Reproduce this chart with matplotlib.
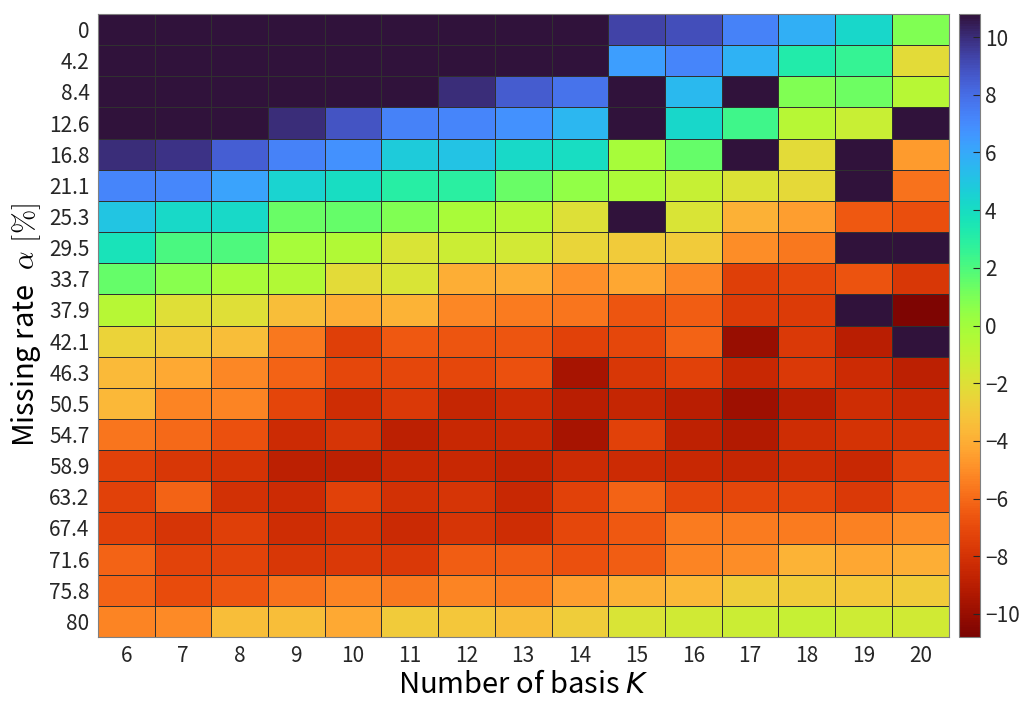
import matplotlib
matplotlib.use("Agg")
import matplotlib.pyplot as plt
import numpy as np

plt.rcParams["font.family"] = ["Noto Sans CJK JP", "DejaVu Sans"]
plt.rcParams["axes.unicode_minus"] = True

# number of basis K (columns) and missing rate alpha [%] (rows)
basis_k = [6, 7, 8, 9, 10, 11, 12, 13, 14, 15, 16, 17, 18, 19, 20]
missing_rate = ["0", "4.2", "8.4", "12.6", "16.8", "21.1", "25.3", "29.5", "33.7",
                "37.9", "42.1", "46.3", "50.5", "54.7", "58.9", "63.2", "67.4",
                "71.6", "75.8", "80"]

# values (>= 10.8 is saturated dark)
values = [
    [11, 11, 11, 11, 11, 11, 11, 11, 11, 9.3, 9.0, 7.3, 5.8, 4.3, 0.9],
    [11, 11, 11, 11, 11, 11, 11, 11, 10.8, 6.4, 7.2, 5.7, 3.2, 2.6, -2.2],
    [11, 11, 11, 11, 11, 11, 10.0, 8.6, 7.8, 11, 5.4, 11, 0.9, 1.3, -0.6],
    [11, 11, 10.8, 10.0, 8.8, 7.3, 7.2, 6.8, 5.5, 11, 4.3, 2.3, -0.6, -1.2, 11],
    [10.0, 9.8, 8.5, 7.3, 6.8, 4.8, 5.1, 4.2, 4.0, -0.1, 1.5, 11, -2.2, 11, -4.6],
    [7.2, 7.1, 6.2, 4.4, 4.0, 3.0, 2.9, 1.4, 0.5, -0.3, -1.1, -1.9, -2.3, 11, -5.8],
    [5.0, 4.2, 4.2, 1.4, 1.5, 0.9, -0.2, -0.6, -2.0, 11, -1.8, -3.9, -4.5, -6.5, -6.9],
    [3.7, 2.1, 2.0, -0.1, -0.5, -1.8, -1.3, -1.6, -2.5, -2.9, -2.9, -5.0, -5.6, 11, 11],
    [1.5, 0.7, -0.2, -0.5, -2.2, -1.8, -4.0, -4.0, -4.9, -4.3, -5.2, -7.5, -7.1, -6.7, -7.8],
    [-0.6, -2.1, -2.1, -3.4, -4.0, -3.8, -5.2, -5.5, -5.7, -6.6, -6.4, -7.6, -7.6, 11, -10.7],
    [-2.6, -2.9, -3.4, -5.6, -7.5, -6.5, -6.6, -6.6, -7.4, -7.1, -6.2, -10.0, -7.7, -9.0, 11],
    [-3.6, -4.2, -5.2, -6.2, -7.1, -7.1, -7.1, -6.8, -9.6, -7.8, -7.4, -8.5, -7.7, -8.3, -8.9],
    [-3.7, -5.3, -5.3, -7.2, -8.2, -7.7, -8.6, -8.3, -9.0, -8.6, -9.0, -9.8, -9.0, -8.2, -8.5],
    [-5.7, -6.0, -6.8, -8.3, -7.9, -8.9, -8.5, -8.5, -9.6, -7.4, -8.8, -9.2, -8.2, -8.0, -8.0],
    [-7.4, -7.8, -8.0, -8.9, -8.9, -8.5, -8.5, -8.7, -8.3, -8.3, -8.5, -8.6, -8.2, -8.5, -7.3],
    [-7.4, -6.2, -8.1, -8.3, -7.4, -8.1, -7.9, -8.5, -7.4, -6.2, -7.1, -7.1, -7.1, -7.7, -6.5],
    [-7.4, -7.9, -7.5, -8.2, -8.0, -8.4, -7.9, -8.2, -7.1, -6.5, -5.5, -5.5, -5.5, -5.4, -5.0],
    [-6.2, -7.3, -7.3, -7.8, -7.7, -7.7, -6.4, -6.4, -6.8, -6.4, -5.3, -5.0, -3.8, -4.3, -4.0],
    [-6.2, -7.0, -6.6, -5.8, -5.3, -5.6, -5.3, -5.5, -4.5, -3.9, -3.7, -2.8, -2.9, -3.1, -2.9],
    [-5.3, -5.1, -3.4, -3.4, -4.2, -2.9, -3.1, -3.4, -2.8, -1.8, -1.5, -1.3, -1.1, -1.4, -1.5],
]

data = np.array(values)

fig = plt.figure(figsize=(10.3, 7.02), dpi=100)
ax = fig.add_axes([0.095, 0.0926, 0.826, 0.8874])
cax = fig.add_axes([0.931, 0.0926, 0.0204, 0.8874])

mesh = ax.pcolormesh(data, cmap="turbo_r", vmin=-10.8, vmax=10.8,
                     edgecolors="#303030", linewidth=0.5)
ax.set_xlim(0, len(basis_k))
ax.set_ylim(len(missing_rate), 0)
ax.set_xticks(np.arange(len(basis_k)) + 0.5)
ax.set_xticklabels([str(k) for k in basis_k])
ax.set_yticks(np.arange(len(missing_rate)) + 0.5)
ax.set_yticklabels(missing_rate)
ax.tick_params(length=0, labelsize=15, colors="#262626", pad=6)
for s in ax.spines.values():
    s.set_color("#808080")
ax.set_xlabel("Number of basis $K$", fontsize=21, labelpad=2,
              math_fontfamily="dejavusans")
ax.set_ylabel("Missing rate $\\ \\alpha\\ [\\%]$", fontsize=21, labelpad=4,
              math_fontfamily="cm")

cb = fig.colorbar(mesh, cax=cax)
cb.set_ticks([-10, -8, -6, -4, -2, 0, 2, 4, 6, 8, 10])
cb.ax.tick_params(direction="in", length=5, labelsize=15, colors="#262626")
cb.outline.set_edgecolor("#808080")

fig.savefig("out.png", dpi=100)
